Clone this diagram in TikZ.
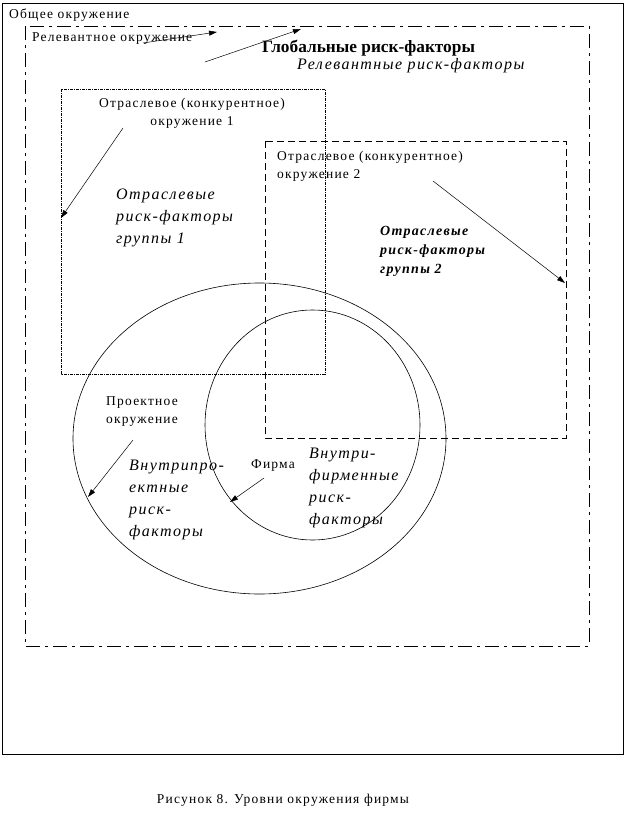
\documentclass[tikz,border=0pt]{standalone}
\usepackage{fontspec}
\setmainfont[LetterSpace=9]{Liberation Serif}
\newfontfamily\plainserif{Liberation Serif}
\usepackage{tikz}
\usetikzlibrary{arrows.meta, calc, positioning, shapes.geometric}

\tikzset{
  lbl/.style={inner sep=0pt, font=\fontsize{13.5}{18}\selectfont},
  risk/.style={inner sep=0pt, align=left, font=\fontsize{16}{22}\selectfont\itshape},
  arr/.style={-{Triangle[length=8pt,width=5pt]}, line width=0.5pt},
  dashdot/.style={line width=0.9pt, dash pattern=on 14pt off 5pt on 3pt off 5pt},
  fine/.style={line width=0.8pt, dash pattern=on 3pt off 1pt on 1pt off 1pt},
  longdash/.style={line width=0.9pt, dash pattern=on 7pt off 4pt}
}

\begin{document}
\begin{tikzpicture}[x=1pt, y=-1pt]
    \useasboundingbox (0,0) rectangle (626,824);

    % рамки
    \draw[line width=0.9pt] (2,3) rectangle (623.5,754);
    \draw[dashdot] (25,26) rectangle (589,646);
    \draw[fine] (61,89) rectangle (325,374);
    \draw[longdash] (265,141) rectangle (566,438);

    % окружения проекта и фирмы
    \draw[line width=0.6pt] (259.5,438.5) ellipse [x radius=186.5, y radius=155.5];
    \draw[line width=0.6pt] (312.5,425) ellipse [x radius=107.5, y radius=115];

    % подписи
    \node[lbl, anchor=west] (gen) at (9,15) {Общее окружение};
    \node[lbl, anchor=west] (rel) at (32,39) {Релевантное окружение};
    \node[inner sep=0pt, anchor=west, font=\fontsize{17.3}{20}\plainserif\bfseries] (glob) at (262,48) {Глобальные риск-факторы};
    \node[risk, anchor=west] (relrisk) at (297,66) {Релевантные риск-факторы};

    \node[lbl, align=center] (ind1) at (192,113) {Отраслевое (конкурентное)\\окружение 1};
    \node[risk, anchor=west] (risk1) at (116,218) {Отраслевые\\риск-факторы\\группы 1};

    \node[lbl, align=left, anchor=west] (ind2) at (277,166) {Отраслевое (конкурентное)\\окружение 2};
    \node[inner sep=0pt, align=left, anchor=west, font=\fontsize{14}{19}\selectfont\bfseries\itshape] (risk2) at (380,251) {Отраслевые\\риск-факторы\\группы 2};

    \node[lbl, align=center] (proj) at (142,412) {Проектное\\окружение};
    \node[risk, anchor=west] (inproj) at (129,500) {Внутрипро-\\ектные\\риск-\\факторы};

    \node[lbl] (firm) at (273,466) {Фирма};
    \node[risk, anchor=west] (infirm) at (309,488) {Внутри-\\фирменные\\риск-\\факторы};

    \node[lbl] (caption) at (283,800) {Рисунок 8. Уровни окружения фирмы};

    % стрелки
    \coordinate (relA) at (143,43);
    \coordinate (relB) at (217,32);
    \coordinate (globA) at (205,62);
    \coordinate (globB) at (301,29);
    \coordinate (ind1A) at (123,128);
    \coordinate (ind1B) at (61,218);
    \coordinate (ind2A) at (433,181);
    \coordinate (ind2B) at (565,283);
    \coordinate (projA) at (133,440);
    \coordinate (projB) at (88,497);
    \coordinate (firmA) at (264,478);
    \coordinate (firmB) at (230,502);

    \draw[arr] (relA) -- (relB);
    \draw[arr] (globA) -- (globB);
    \draw[arr] (ind1A) -- (ind1B);
    \draw[arr] (ind2A) -- (ind2B);
    \draw[arr] (projA) -- (projB);
    \draw[arr] (firmA) -- (firmB);
\end{tikzpicture}
\end{document}
